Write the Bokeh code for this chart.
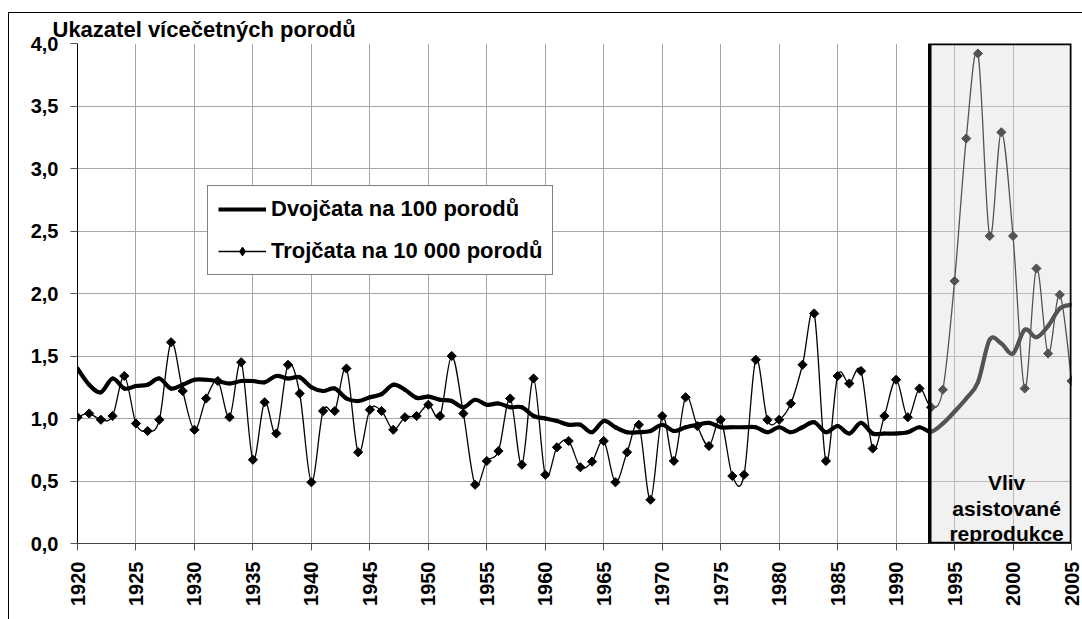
import math
import numpy as np
from bokeh.plotting import figure
from bokeh.models import (Range1d, BoxAnnotation, Label, Legend, LegendItem,
                          FixedTicker, CustomJSTickFormatter, ColumnDataSource)
from bokeh.embed import file_html
from bokeh.resources import INLINE

years = list(range(1920, 2006))

# Dvojčata na 100 porodů
twins = [1.40, 1.27, 1.21, 1.32, 1.24, 1.26, 1.27, 1.32, 1.24, 1.27,
         1.31, 1.31, 1.30, 1.28, 1.30, 1.30, 1.29, 1.34, 1.32, 1.33,
         1.25, 1.22, 1.24, 1.16, 1.14, 1.17, 1.195, 1.27, 1.23, 1.165,
         1.175, 1.15, 1.14, 1.09, 1.15, 1.11, 1.12, 1.09, 1.09, 1.02,
         1.00, 0.98, 0.95, 0.95, 0.89, 0.98, 0.93, 0.89, 0.89, 0.90,
         0.95, 0.90, 0.93, 0.95, 0.965, 0.93, 0.93, 0.93, 0.93, 0.89,
         0.93, 0.89, 0.93, 0.97, 0.89, 0.94, 0.88, 0.965, 0.88, 0.88,
         0.88, 0.89, 0.93, 0.895, 0.96, 1.055, 1.16, 1.29, 1.63, 1.60,
         1.52, 1.71, 1.65, 1.74, 1.88, 1.91]

# Trojčata na 10 000 porodů
triplets = [1.01, 1.04, 0.99, 1.02, 1.34, 0.96, 0.90, 0.99, 1.61, 1.22,
            0.91, 1.16, 1.30, 1.01, 1.45, 0.67, 1.13, 0.88, 1.43, 1.20,
            0.49, 1.06, 1.06, 1.40, 0.73, 1.07, 1.06, 0.91, 1.01, 1.02,
            1.11, 1.02, 1.50, 1.04, 0.47, 0.66, 0.74, 1.16, 0.63, 1.32,
            0.55, 0.77, 0.82, 0.61, 0.655, 0.82, 0.49, 0.73, 0.95, 0.35,
            1.02, 0.66, 1.17, 0.94, 0.78, 0.99, 0.54, 0.55, 1.47, 0.99,
            0.99, 1.12, 1.43, 1.84, 0.66, 1.34, 1.28, 1.38, 0.76, 1.02,
            1.31, 1.01, 1.24, 1.09, 1.23, 2.10, 3.24, 3.92, 2.46, 3.29,
            2.46, 1.24, 2.20, 1.52, 1.99, 1.30]

x_ticks = list(range(1920, 2006, 5))
y_ticks = [0.0, 0.5, 1.0, 1.5, 2.0, 2.5, 3.0, 3.5, 4.0]

title_text = "Ukazatel vícečetných porodů"
legend_labels = ["Dvojčata na 100 porodů", "Trojčata na 10 000 porodů"]
box_lines = ["Vliv", "asistované", "reprodukce"]
box_range = (1992.88, 2005)

FONT = "Liberation Sans"


def smooth_segments(x, y):
    """Bezier control points for a smoothed (Excel-like) line through data."""
    x = np.asarray(x, float)
    y = np.asarray(y, float)
    n = len(x)
    qx = np.concatenate([[x[0]], x, [x[-1]]])
    qy = np.concatenate([[y[0]], y, [y[-1]]])
    cx0 = qx[1:n] + (qx[2:n + 1] - qx[0:n - 1]) / 6.0
    cy0 = qy[1:n] + (qy[2:n + 1] - qy[0:n - 1]) / 6.0
    cx1 = qx[2:n + 1] - (qx[3:n + 2] - qx[1:n]) / 6.0
    cy1 = qy[2:n + 1] - (qy[3:n + 2] - qy[1:n]) / 6.0
    return dict(x0=x[:-1], y0=y[:-1], x1=x[1:], y1=y[1:],
                cx0=cx0, cy0=cy0, cx1=cx1, cy1=cy1)


p = figure(width=1082, height=619,
           x_range=Range1d(1920, 2005), y_range=Range1d(0, 4),
           output_backend="svg", toolbar_location=None,
           min_border_left=77, min_border_right=11,
           min_border_top=43, min_border_bottom=76)
# range used only by legend proxy renderers (keeps them out of view)
p.extra_y_ranges = {"proxy": Range1d(-100, -99)}

p.border_fill_color = None
p.background_fill_color = "white"
p.outline_line_color = None
p.styles = {
    "background-image": "linear-gradient(#000,#000), linear-gradient(#000,#000)",
    "background-size": "1px 100%, 100% 1px",
    "background-position": "8px 12px, 8px 12px",
    "background-repeat": "no-repeat",
}

# title
p.title.text = title_text
p.title.align = "left"
p.title.offset = -25
p.title.standoff = 4
p.title.text_font = FONT
p.title.text_font_style = "bold"
p.title.text_font_size = "22px"
p.title.text_color = "black"

# axes
p.xaxis.ticker = FixedTicker(ticks=x_ticks)
p.yaxis.ticker = FixedTicker(ticks=y_ticks)
p.yaxis.formatter = CustomJSTickFormatter(code="return tick.toFixed(1).replace('.', ',');")
p.xaxis.major_label_orientation = math.pi / 2
for ax in (p.xaxis[0], p.yaxis[0]):
    ax.major_label_text_font = FONT
    ax.major_label_text_font_style = "bold"
    ax.major_label_text_color = "black"
    ax.major_tick_in = 0
    ax.major_tick_out = 7
    ax.minor_tick_line_color = None
    ax.axis_line_color = "black"
    ax.major_tick_line_color = "#555555"
p.xaxis.major_label_text_font_size = "20px"
p.yaxis.major_label_text_font_size = "20px"
p.xaxis.major_label_standoff = 11
p.yaxis.major_label_standoff = 12
p.xaxis.axis_line_color = "#444444"

p.xgrid.ticker = FixedTicker(ticks=x_ticks)
p.ygrid.ticker = FixedTicker(ticks=y_ticks)
p.grid.grid_line_color = "#a6a6a6"
p.grid.grid_line_width = 1

# twins: thick smoothed line
ts = ColumnDataSource(smooth_segments(years, twins))
p.bezier(x0="x0", y0="y0", x1="x1", y1="y1", cx0="cx0", cy0="cy0",
         cx1="cx1", cy1="cy1", source=ts, line_color="black",
         line_width=4.2, line_cap="round")

# triplets: thin smoothed line with diamond markers
tr = ColumnDataSource(smooth_segments(years, triplets))
p.bezier(x0="x0", y0="y0", x1="x1", y1="y1", cx0="cx0", cy0="cy0",
         cx1="cx1", cy1="cy1", source=tr, line_color="black",
         line_width=1.3, line_cap="round")
p.scatter(years, triplets, marker="square", size=6.5, angle=math.pi / 4,
          fill_color="black", line_color="black")

# legend proxies (drawn on an out-of-view range; only their legend glyphs show)
leg_twins = p.line(years, twins, y_range_name="proxy",
                   line_color="black", line_width=4)
leg_trip_line = p.line(years, triplets, y_range_name="proxy",
                       line_color="black", line_width=1.3)
leg_trip_mark = p.scatter(years, triplets, y_range_name="proxy", marker="diamond",
                          size=11, fill_color="black", line_color="black")

legend = Legend(items=[LegendItem(label=legend_labels[0], renderers=[leg_twins]),
                       LegendItem(label=legend_labels[1],
                                  renderers=[leg_trip_line, leg_trip_mark])],
                location=(130, 268))
legend.label_text_font = FONT
legend.label_text_font_style = "bold"
legend.label_text_font_size = "22px"
legend.label_text_color = "black"
legend.border_line_color = "black"
legend.border_line_width = 1
legend.background_fill_color = "white"
legend.background_fill_alpha = 1
legend.glyph_width = 48
legend.glyph_height = 22
legend.label_height = 22
legend.label_standoff = 5
legend.spacing = 16
legend.padding = 10
legend.margin = 0
p.add_layout(legend)

# shaded box (assisted reproduction)
box = BoxAnnotation(left=box_range[0], right=box_range[1], bottom=0, top=4,
                    fill_color="#dadada", fill_alpha=0.38,
                    line_color="black", line_width=3.5, line_alpha=1)
p.add_layout(box)

box_y = [0.49, 0.284, 0.083]
for txt, yy in zip(box_lines, box_y):
    p.add_layout(Label(x=1999.45, y=yy, text=txt, text_align="center",
                       text_baseline="alphabetic", text_font=FONT,
                       text_font_style="bold", text_font_size="21px",
                       text_color="black"))

open("out.html", "w").write(file_html(p, INLINE))
